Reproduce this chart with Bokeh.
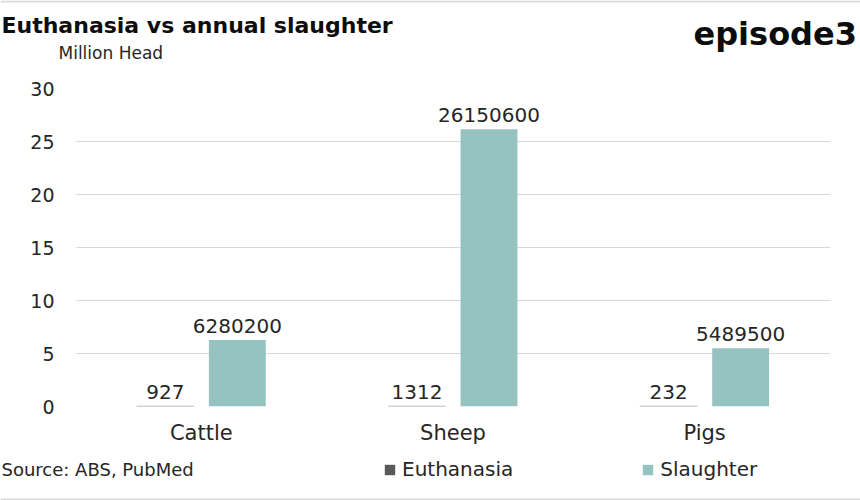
from bokeh.plotting import figure
from bokeh.layouts import column
from bokeh.models import (ColumnDataSource, LabelSet, Label, Legend, LegendItem, FactorRange,
                          Range1d, Span)
from bokeh.transform import dodge
from bokeh.core.properties import value
from bokeh.embed import file_html
from bokeh.resources import INLINE

categories = ["Cattle", "Sheep", "Pigs"]
euthanasia = [927, 1312, 232]
slaughter = [6280200, 26150600, 5489500]
y_ticks = [0, 5, 10, 15, 20, 25, 30]
series_names = ["Euthanasia", "Slaughter"]
title_text = "Euthanasia vs annual slaughter"
unit_text = "Million Head"
logo_text = "episode3"
source_text = "Source: ABS, PubMed"

FONT = "DejaVu Sans"
TEAL = "#96c2c0"
DARK = "#595959"
TXT = "#262626"
BORDER = "#d9d9d9"
W = 860
NAN = float("nan")


def blank(h):
    f = figure(width=W, height=h, x_range=Range1d(0, W), y_range=Range1d(0, h),
               output_backend="svg", toolbar_location=None,
               min_border=0, min_border_left=0, min_border_right=0,
               min_border_top=0, min_border_bottom=0)
    f.frame_align = False
    f.axis.visible = False
    f.grid.visible = False
    f.outline_line_color = None
    f.background_fill_color = "white"
    f.border_fill_color = "white"
    return f


# ---- header ----
TOP_H = 75
top = blank(TOP_H)
top.add_layout(Span(location=TOP_H - 1, dimension="width", line_color=BORDER, line_width=2))
top.add_layout(Label(x=1, y=TOP_H - 25, text=title_text, text_font=FONT, text_font_style="bold",
                     text_font_size="22px", text_color="#0d0d0d", text_baseline="middle"))
top.add_layout(Label(x=58, y=TOP_H - 52, text=unit_text, text_font=FONT,
                     text_font_size="17px", text_color=TXT, text_baseline="middle"))
top.add_layout(Label(x=693, y=TOP_H - 33, text=logo_text, text_font=FONT, text_font_style="bold",
                     text_font_size="32px", text_color="#0d0d0d", text_baseline="middle"))

# ---- main chart ----
src = ColumnDataSource(dict(
    cat=categories,
    eu=[v / 1e6 for v in euthanasia],
    sl=[v / 1e6 for v in slaughter],
    eu_lbl=[str(v) for v in euthanasia],
    sl_lbl=[str(v) for v in slaughter],
))

MAIN_H = 381
p = figure(width=W, height=MAIN_H, x_range=FactorRange(*categories, range_padding=0),
           y_range=(0, 30), output_backend="svg", toolbar_location=None,
           min_border_left=75, min_border_right=30, min_border_top=13, min_border_bottom=50)
p.frame_align = False
p.outline_line_color = None
p.background_fill_color = "white"
p.border_fill_color = "white"

p.vbar(x=dodge("cat", -0.143, range=p.x_range), top="eu", width=0.226, source=src,
       fill_color=DARK, line_color="#a6a6a6", line_width=1.5)
p.vbar(x=dodge("cat", 0.143, range=p.x_range), top="sl", width=0.226, source=src,
       fill_color=TEAL, line_color=None)

p.add_layout(LabelSet(x=dodge("cat", -0.143, range=p.x_range), y="eu", text="eu_lbl", source=src,
                      text_align="center", text_baseline="bottom", y_offset=7,
                      text_font=value(FONT), text_font_size="20px", text_color=TXT))
p.add_layout(LabelSet(x=dodge("cat", 0.143, range=p.x_range), y="sl", text="sl_lbl", source=src,
                      text_align="center", text_baseline="bottom", y_offset=7,
                      text_font=value(FONT), text_font_size="20px", text_color=TXT))

p.yaxis.ticker = y_ticks
p.yaxis.axis_line_color = None
p.yaxis.major_tick_line_color = None
p.yaxis.minor_tick_line_color = None
p.yaxis.major_tick_out = 0
p.yaxis.major_tick_in = 0
p.yaxis.minor_tick_out = 0
p.yaxis.major_label_standoff = 21
p.yaxis.major_label_text_font = FONT
p.yaxis.major_label_text_font_size = "19px"
p.yaxis.major_label_text_color = TXT

p.xaxis.axis_line_color = None
p.xaxis.major_tick_line_color = None
p.xaxis.major_tick_out = 0
p.xaxis.major_tick_in = 0
p.xaxis.major_label_standoff = 14
p.xaxis.major_label_text_font = FONT
p.xaxis.major_label_text_font_size = "21px"
p.xaxis.major_label_text_color = TXT

p.xgrid.grid_line_color = None
p.ygrid.grid_line_color = BORDER

# ---- footer ----
BOT_H = 44
bot = blank(BOT_H)
bot.add_layout(Span(location=1, dimension="width", line_color=BORDER, line_width=2))
bot.add_layout(Label(x=1, y=BOT_H - 13, text=source_text, text_font=FONT,
                     text_font_size="18px", text_color=TXT, text_baseline="middle"))
lr1 = bot.vbar(x=[NAN], top=[NAN], width=1, fill_color=DARK, line_color=None)
lr2 = bot.vbar(x=[NAN], top=[NAN], width=1, fill_color=TEAL, line_color=None)
legend = Legend(items=[LegendItem(label=series_names[0], renderers=[lr1]),
                       LegendItem(label=series_names[1], renderers=[lr2])],
                orientation="horizontal", location=(383, 19), spacing=128, padding=0, margin=0,
                glyph_width=13, glyph_height=13, label_standoff=6,
                label_text_font=FONT, label_text_font_size="20px", label_text_color=TXT,
                border_line_color=None, background_fill_alpha=0)
bot.add_layout(legend)

layout = column(top, p, bot, spacing=0)
open("out.html", "w").write(file_html(layout, INLINE))
